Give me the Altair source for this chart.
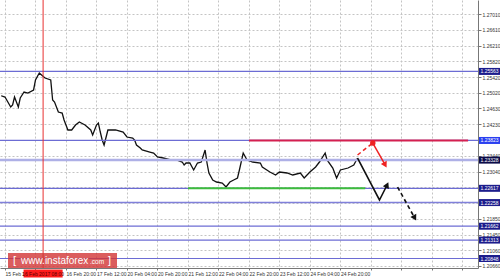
import json
import altair as alt
import pandas as pd

# ---------------- data ----------------
# trading hours counted from "15 Feb 12:00", close prices
hours = [-2, 0, 3, 4, 5, 7, 8, 10, 12, 15, 16, 18, 21, 24, 25, 26, 28, 30, 31, 33,
         35, 37, 39, 42, 45, 46, 48, 49, 50, 51, 52, 54, 58, 62, 64, 67, 68, 69, 71, 72,
         76, 78, 80, 83, 87, 90, 93, 94, 95, 97, 99, 101, 103, 105, 106, 107, 109, 111, 114, 116,
         118, 120, 122, 123, 125, 127, 130, 134, 135, 139, 142, 144, 148, 151, 155, 157, 160, 163, 165, 168,
         169, 172, 174, 176, 180, 183, 185]
closes = [1.24950, 1.24918, 1.24666, 1.24717, 1.24918, 1.24666, 1.24893, 1.25044, 1.25019, 1.25095,
          1.25347, 1.25523, 1.25397, 1.25347, 1.24843, 1.24792, 1.24540, 1.24515, 1.24339, 1.24087,
          1.24087, 1.24213, 1.24288, 1.24213, 1.24087, 1.23961, 1.24213, 1.24263, 1.24036, 1.23835,
          1.23709, 1.24087, 1.24087, 1.24036, 1.23910, 1.23885, 1.23835, 1.23709, 1.23633, 1.23583,
          1.23532, 1.23507, 1.23406, 1.23381, 1.23331, 1.23331, 1.23280, 1.23205, 1.23255, 1.23255,
          1.23079, 1.23255, 1.23280, 1.23583, 1.23255, 1.23003, 1.22827, 1.22776, 1.22751, 1.22650,
          1.22776, 1.22827, 1.22877, 1.23079, 1.23507, 1.23331, 1.23280, 1.23255, 1.23154, 1.23028,
          1.22953, 1.23028, 1.23003, 1.22953, 1.23003, 1.22877, 1.23028, 1.23154, 1.23280, 1.23507,
          1.23331, 1.23129, 1.22877, 1.23079, 1.23129, 1.23205, 1.23381]

level_prices = [1.25563, 1.23823, 1.23328, 1.22617, 1.22258, 1.21662, 1.21313, 1.20848]
level_labels = ["1.25563", "1.23823", "1.23328", "1.22617", "1.22258", "1.21662", "1.21313", "1.20848"]
level_line_colors = ["#6c6cd4", "#6c6cd4", "#aeb0e6", "#6c6cd4", "#8080da", "#6c6cd4", "#6c6cd4", "#6c6cd4"]
level_line_widths = [1.2, 1.2, 2.5, 1.2, 1.4, 1.2, 1.2, 1.2]
level_badge_colors = ["#1c1c8c", "#2a3ff0", "#0b0b48", "#1c1c8c", "#1c1c8c", "#1c1c8c", "#1c1c8c", "#1c1c8c"]

tick_prices = [1.27010, 1.26610, 1.26210, 1.25820, 1.25420, 1.25020, 1.24630, 1.24230, 1.23830,
               1.23440, 1.23040, 1.22650, 1.22250, 1.21850, 1.21450, 1.21060, 1.20660]
hidden_tick_labels = ["1.23830", "1.22650", "1.22250"]   # covered by the level badges
time_labels = ["15 Feb 12:00", "", "16 Feb 20:00", "17 Feb 12:00", "20 Feb 04:00",
               "20 Feb 20:00", "21 Feb 12:00", "22 Feb 04:00", "22 Feb 20:00", "23 Feb 12:00",
               "24 Feb 04:00", "24 Feb 20:00"]   # second label is covered by the crosshair label
grid_hours = list(range(0, 241, 16))

crosshair_hour = [20]
crosshair_text = ["16 Feb 2017 08:00"]

resistance_price = [1.23823]
resistance_from = [128]
resistance_to = [243]
support_price = [1.22617]
support_from = [96]
support_to = [189]

red_dash_h = [185, 193]
red_dash_p = [1.23457, 1.23759]
red_solid_h = [193, 199.5]
red_solid_p = [1.23759, 1.23205]
black_solid_h = [185, 196.5, 200.5]
black_solid_p = [1.23381, 1.22323, 1.22701]
black_dash_h = [206, 215]
black_dash_p = [1.22650, 1.21869]

# ---------------- chart ----------------
W, H = 478, 268
FONT = "Liberation Sans"

xscale = alt.Scale(domain=[-2.62, 248.2], nice=False, zero=False)
yscale = alt.Scale(domain=[1.20609, 1.27363], nice=False, zero=False)

x_label_expr = ("datum.value <= " + str(16 * (len(time_labels) - 1)) + " ? "
                + json.dumps(time_labels) + "[round(datum.value / 16)] : ''")
y_label_expr = ("indexof(" + json.dumps(hidden_tick_labels) + ", format(datum.value, '.5f')) >= 0"
                " ? '' : format(datum.value, '.5f')")

xaxis = alt.Axis(values=grid_hours, labelExpr=x_label_expr, grid=True, gridDash=[2, 2],
                 gridColor="#c4c4c4", gridWidth=1, labelFontSize=5, labelAlign="left",
                 labelColor="#333333", labelFont=FONT, tickSize=2, tickColor="#777777",
                 domainColor="#777777", title=None, labelPadding=1, labelFlush=False,
                 labelOverlap=False)
yaxis = alt.Axis(orient="right", values=tick_prices, labelExpr=y_label_expr, grid=True,
                 gridDash=[2, 2], gridColor="#c4c4c4", gridWidth=1, labelFontSize=5,
                 labelColor="#333333", labelFont=FONT, tickSize=3, tickColor="#777777",
                 domainColor="#777777", title=None, labelPadding=1, labelFlush=False,
                 labelOverlap=False)

X = alt.X("t:Q", scale=xscale, axis=xaxis)
Y = alt.Y("p:Q", scale=yscale, axis=yaxis)

price_df = pd.DataFrame({"t": hours, "p": closes})
levels_df = pd.DataFrame({"p": level_prices, "label": level_labels, "lc": level_line_colors,
                          "lw": level_line_widths, "bc": level_badge_colors})

price = alt.Chart(price_df).mark_line(color="#111111", strokeWidth=1.3).encode(x=X, y=Y)

levels = alt.Chart(levels_df).mark_rule().encode(
    y=Y,
    color=alt.Color("lc:N", scale=None, legend=None),
    strokeWidth=alt.StrokeWidth("lw:Q", scale=None, legend=None),
)

cross_df = pd.DataFrame({"t": crosshair_hour, "label": crosshair_text})
crossline = alt.Chart(cross_df).mark_rule(color="#e83030", strokeWidth=1).encode(x=X)

res_df = pd.DataFrame({"t": resistance_from, "t2": resistance_to, "p": resistance_price})
res = alt.Chart(res_df).mark_rule(color="#d42050", strokeWidth=2).encode(x=X, x2="t2:Q", y=Y)

sup_df = pd.DataFrame({"t": support_from, "t2": support_to, "p": support_price})
sup = alt.Chart(sup_df).mark_rule(color="#3cbc3c", strokeWidth=2).encode(x=X, x2="t2:Q", y=Y)

rd = alt.Chart(pd.DataFrame({"t": red_dash_h, "p": red_dash_p})).mark_line(
    color="#ee2222", strokeWidth=1.5, strokeDash=[4, 3]).encode(x=X, y=Y)
rs = alt.Chart(pd.DataFrame({"t": red_solid_h, "p": red_solid_p})).mark_line(
    color="#ee2222", strokeWidth=1.5).encode(x=X, y=Y)
rdot = alt.Chart(pd.DataFrame({"t": red_dash_h[1:], "p": red_dash_p[1:]})).mark_circle(
    color="#ee2222", size=30, opacity=1).encode(x=X, y=Y)
rhead = alt.Chart(pd.DataFrame({"t": red_solid_h[-1:], "p": red_solid_p[-1:]})).mark_point(
    shape="triangle-up", filled=True, color="#ee2222", size=45, angle=151, opacity=1).encode(x=X, y=Y)

bs = alt.Chart(pd.DataFrame({"t": black_solid_h, "p": black_solid_p, "o": list(range(len(black_solid_h)))})).mark_line(
    color="#111111", strokeWidth=1.6).encode(x=X, y=Y, order="o:Q")
bhead1 = alt.Chart(pd.DataFrame({"t": black_solid_h[-1:], "p": black_solid_p[-1:]})).mark_point(
    shape="triangle-up", filled=True, color="#111111", size=45, angle=25, opacity=1).encode(x=X, y=Y)
bd = alt.Chart(pd.DataFrame({"t": black_dash_h, "p": black_dash_p})).mark_line(
    color="#111111", strokeWidth=1.6, strokeDash=[4, 3]).encode(x=X, y=Y)
bhead2 = alt.Chart(pd.DataFrame({"t": black_dash_h[-1:], "p": black_dash_p[-1:]})).mark_point(
    shape="triangle-up", filled=True, color="#111111", size=45, angle=151, opacity=1).encode(x=X, y=Y)

# price badges on the right axis
badge = alt.Chart(levels_df).mark_point(
    shape="M-1.5,-0.5H1.5V0.5H-1.5Z", filled=True, size=196, opacity=1, strokeWidth=0
).encode(x=alt.value(W + 11.5), y=Y, color=alt.Color("bc:N", scale=None, legend=None))
badge_text = alt.Chart(levels_df).mark_text(
    color="white", fontSize=5, font=FONT, align="center", baseline="middle"
).encode(x=alt.value(W + 11.5), y=Y, text="label:N")

# crosshair time label at the bottom
cross_badge = alt.Chart(cross_df).mark_point(
    shape="M-2.44,-0.5H2.44V0.5H-2.44Z", filled=True, size=256, opacity=1,
    color="#ff1c1c", strokeWidth=0).encode(x=X, y=alt.value(H + 5.5))
cross_text = alt.Chart(cross_df).mark_text(
    color="#5a0000", fontSize=5, font=FONT, align="center", baseline="middle"
).encode(x=X, y=alt.value(H + 5.5), text="label:N")

# watermark
wm_box = alt.Chart(pd.DataFrame({"a": [0]})).mark_rect(
    color="#d23434", opacity=0.8).encode(
    x=alt.value(8), x2=alt.value(117), y=alt.value(253), y2=alt.value(268))
wm_df = pd.DataFrame({"s": ["[", "www.instaforex", ".com", "]"]})
wm1 = alt.Chart(wm_df.iloc[[0]]).mark_text(color="white", font=FONT, fontSize=11, align="left", baseline="middle").encode(
    x=alt.value(13), y=alt.value(260.5), text="s:N")
wm2 = alt.Chart(wm_df.iloc[[1]]).mark_text(color="white", font=FONT, fontSize=10, align="left", baseline="middle").encode(
    x=alt.value(21), y=alt.value(261), text="s:N")
wm3 = alt.Chart(wm_df.iloc[[2]]).mark_text(color="white", font=FONT, fontSize=6.5, align="left", baseline="middle").encode(
    x=alt.value(90), y=alt.value(262), text="s:N")
wm4 = alt.Chart(wm_df.iloc[[3]]).mark_text(color="white", font=FONT, fontSize=11, align="left", baseline="middle").encode(
    x=alt.value(108), y=alt.value(260.5), text="s:N")

chart = alt.layer(
    price, levels, crossline, res, sup, rd, rs, rdot, rhead, bs, bhead1, bd, bhead2,
    badge, badge_text, cross_badge, cross_text, wm_box, wm1, wm2, wm3, wm4
).properties(
    width=W, height=H, autosize="none",
    padding={"left": 0, "top": 0, "right": 500 - W, "bottom": 278 - H},
    background="white",
).configure_view(stroke=None)

chart.save("out.html", embed_options={"renderer": "svg", "actions": False})
